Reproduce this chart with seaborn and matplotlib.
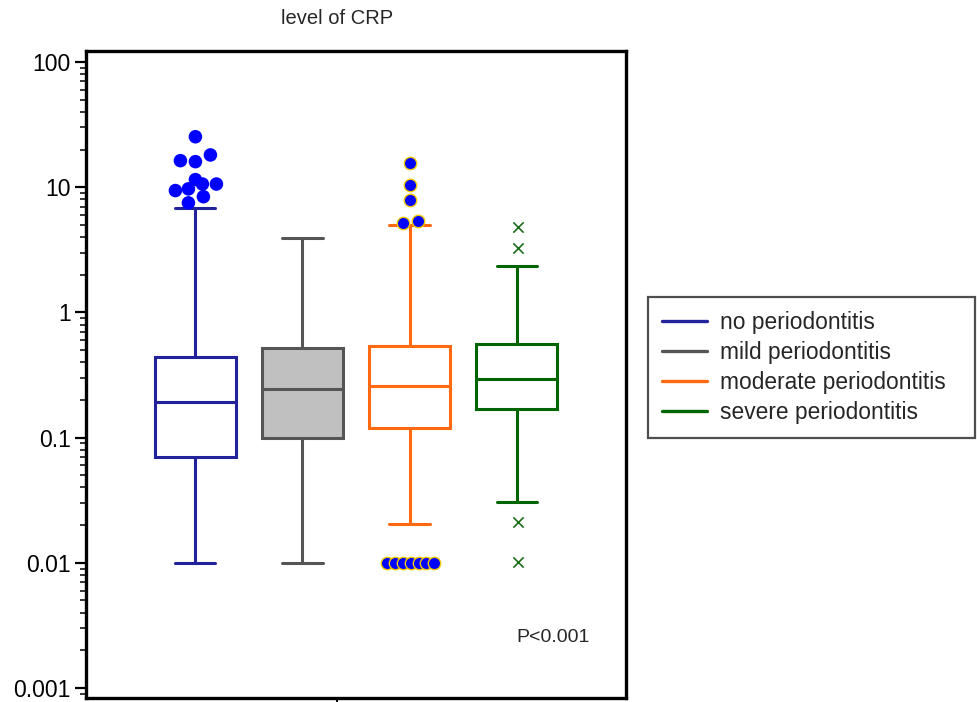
import matplotlib
matplotlib.use("Agg")
import matplotlib.pyplot as plt
from matplotlib.lines import Line2D
import seaborn as sns
import numpy as np
import pandas as pd

# ---------------- data ----------------
groups = ["no periodontitis", "mild periodontitis",
          "moderate periodontitis", "severe periodontitis"]
# five-number summaries: lower whisker, Q1, median, Q3, upper whisker
whisker_low = [0.01, 0.01, 0.0205, 0.0306]
q1 = [0.070, 0.100, 0.119, 0.169]
median = [0.192, 0.243, 0.257, 0.292]
q3 = [0.440, 0.520, 0.540, 0.556]
whisker_high = [6.8, 3.9, 4.95, 2.35]

# outliers
no_out = [25.3, 16.3, 16.0, 18.1, 11.5, 10.6, 10.6, 9.4, 9.7, 8.4, 7.5]
no_out_dx = [0, -15, 0, 15, 0, 7, 21, -20, -7, 8, -7]
mod_out = [15.7, 10.5, 7.95, 5.2, 5.4, 0.01, 0.01, 0.01, 0.01, 0.01, 0.01, 0.01]
mod_out_dx = [0, 0, 0, -7, 8, -23, -15, -7, 1, 9, 16, 24]
sev_out = [4.8, 3.25, 0.021, 0.0102]

ytick_vals = [100, 10, 1, 0.1, 0.01, 0.001]
ytick_labels = ["100", "10", "1", "0.1", "0.01", "0.001"]

title = "level of CRP"
p_text = "P<0.001"

line_colors = ["#22229A", "#555555", "#FF6A10", "#006400"]
fill_colors = ["#FFFFFF", "#C0C0C0", "#FFFFFF", "#FFFFFF"]

# ---------------- build long-form table ----------------
rows = []
for g, a, b, c, d, e in zip(groups, whisker_low, q1, median, q3, whisker_high):
    for v in (a, b, c, d, e):
        rows.append({"panel": "", "group": g, "crp": v})
df = pd.DataFrame(rows)

# ---------------- figure ----------------
sns.set_style("ticks")
plt.rcParams["font.family"] = ["Liberation Sans", "DejaVu Sans"]

W, H = 977, 702
fig = plt.figure(figsize=(W / 100, H / 100), dpi=100)
ax_l, ax_r, ax_t, ax_b = 86, 626, 51, 698
ax = fig.add_axes([ax_l / W, 1 - ax_b / H, (ax_r - ax_l) / W, (ax_b - ax_t) / H])
ax.set_yscale("log")

total_width = 0.793
for g, lc, fc in zip(groups, line_colors, fill_colors):
    sub = df[df["group"] == g]
    sns.boxplot(data=sub, x="panel", y="crp", hue="group", hue_order=groups,
                palette={gg: fc for gg in groups}, linecolor=lc, dodge=True,
                width=total_width, gap=0.25, whis=(0, 100), showfliers=False,
                linewidth=2.2, legend=False, ax=ax)

px_per_unit = (ax_r - ax_l)  # xlim is (-0.5, 0.5)
step = total_width / len(groups)
centers = [-total_width / 2 + step * (i + 0.5) for i in range(len(groups))]

# outliers
ax.scatter([centers[0] + dx / px_per_unit for dx in no_out_dx], no_out,
           s=95, color="#0000FF", edgecolors="none", zorder=5)
ax.scatter([centers[2] + dx / px_per_unit for dx in mod_out_dx], mod_out,
           s=80, color="#0000FF", edgecolors="#F2C800", linewidths=1.0, zorder=5)
ax.scatter([centers[3] + 1 / px_per_unit] * len(sev_out), sev_out,
           s=55, marker="x", color="#1B6E1B", linewidths=1.2, zorder=5)

ax.set_xlim(-0.5, 0.5)
ax.set_ylim(10 ** -3.08, 10 ** 2.088)
ax.set_xlabel("")
ax.set_ylabel("")

ax.set_yticks(ytick_vals)
ax.set_yticklabels(ytick_labels)
ax.yaxis.set_minor_locator(matplotlib.ticker.LogLocator(base=10, subs=np.arange(2, 10)))
ax.yaxis.set_minor_formatter(matplotlib.ticker.NullFormatter())
ax.tick_params(axis="y", which="major", length=8, width=1.6, labelsize=16.5,
               colors="black", direction="out", pad=3)
ax.tick_params(axis="y", which="minor", length=4, width=1.1, colors="black",
               direction="out")
ax.set_xticks([(337 - (ax_l + ax_r) / 2) / px_per_unit])
ax.set_xticklabels([""])
ax.tick_params(axis="x", length=5, width=1.4, colors="black")

for sp in ax.spines.values():
    sp.set_visible(True)
    sp.set_color("black")
    sp.set_linewidth(2.4)

ax.text((516 - ax_l) / (ax_r - ax_l), (ax_b - 637) / (ax_b - ax_t), p_text,
        transform=ax.transAxes, fontsize=14, ha="left", va="center")

fig.text(337 / W, 1 - 18 / H, title, fontsize=14.5, ha="center", va="center")

handles = [Line2D([0], [0], color=c, lw=2.4) for c in line_colors]
leg = fig.legend(handles, groups, loc="center left", mode="expand",
                 bbox_to_anchor=(648 / W, 1 - 437 / H, 327 / W, 139 / H),
                 fontsize=16.4,
                 frameon=True, fancybox=False, edgecolor="#222222",
                 handlelength=2.0, handletextpad=0.55, labelspacing=0.32,
                 borderpad=0.6, borderaxespad=0)
leg.get_frame().set_linewidth(1.6)

fig.savefig("out.png", dpi=100)
